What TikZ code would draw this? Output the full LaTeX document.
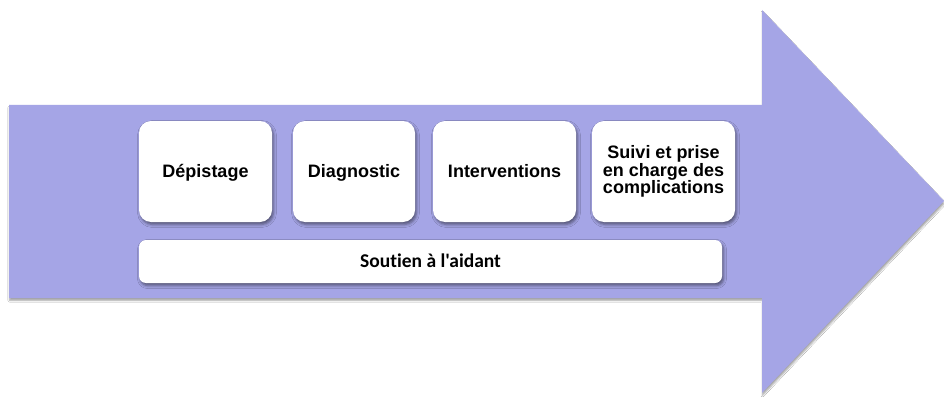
\documentclass[tikz,border=0pt]{standalone}
\usepackage{fontspec}
\setmainfont{Liberation Sans}
\newfontfamily\carlitofont[Ligatures=NoCommon]{Carlito}
\usetikzlibrary{shadows.blur}
\definecolor{arrowfill}{RGB}{165,165,230}
\begin{document}
\begin{tikzpicture}[x=1pt,y=1pt,
  boxshadow/.style={blur shadow={shadow xshift=1.5pt,shadow yshift=-2.5pt,shadow blur radius=3pt,shadow opacity=50}},
  stage/.style={draw=none,fill=white,rounded corners=12pt,align=center,
    font=\fontsize{18}{16.5}\selectfont\bfseries,boxshadow,inner sep=0pt,
    minimum height=101pt},
  oneline/.style={text height=16pt,text depth=4pt},
  wide/.style={draw=none,fill=white,rounded corners=7pt,
    font=\fontsize{19.5}{20}\selectfont\carlitofont\bfseries,boxshadow,inner sep=0pt,
    text height=16pt,text depth=4pt}]
\useasboundingbox (0,0) rectangle (944,397);
\fill[white] (0,0) rectangle (944,397);
% arrow with shadow
\path[fill=arrowfill,blur shadow={shadow xshift=0.5pt,shadow yshift=-2.5pt,shadow blur radius=1.5pt,shadow opacity=35}]
  (9,397-105) -- (762,397-105) -- (762,397-10) -- (944,397-201) -- (762,397-393) -- (762,397-298) -- (9,397-298) -- cycle;
\node[stage,oneline,minimum width=133pt] (depistage) at (205.5,397-171.5) {Dépistage};
\node[stage,oneline,minimum width=122pt] (diagnostic) at (354,397-171.5) {Diagnostic};
\node[stage,oneline,minimum width=143pt] (interventions) at (504.5,397-171.5) {Interventions};
\node[stage,minimum width=143pt] (suivi) at (663.5,397-171.5) {Suivi et prise\\en charge des\\complications};
\node[wide,minimum width=583pt,minimum height=43pt] (soutien) at (430.5,397-261.5) {Soutien à l'aidant};
\end{tikzpicture}
\end{document}
